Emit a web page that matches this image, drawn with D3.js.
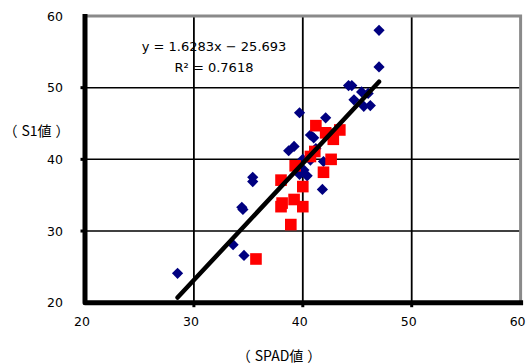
<!DOCTYPE html>
<html>
<head>
<meta charset="utf-8">
<script src="https://cdn.jsdelivr.net/npm/d3@7"></script>
<style>
  html, body { margin: 0; padding: 0; background: #fff; }
  svg { display: block; }
</style>
</head>
<body>
<div id="chart"></div>
<script>
// ── Data ───────────────────────────────────────────────────────────────────
const xTicks = [20, 30, 40, 50, 60]
const yTicks = [20, 30, 40, 50, 60]

// series 1 – navy diamonds
const blueX = [28.5, 33.6, 34.6, 34.4, 34.5, 35.4, 35.4, 38.7, 39.2, 39.7, 39.7, 40.0, 40.1, 40.4, 40.7, 41.0, 41.2, 40.7, 42.1, 41.9, 41.8, 44.2, 44.5, 44.7, 45.4, 46.0, 45.6, 46.2, 47.0, 47.0]
const blueY = [24.1, 28.1, 26.6, 33.3, 33.0, 37.5, 36.9, 41.2, 41.8, 46.5, 37.9, 40.0, 38.5, 37.7, 43.4, 43.0, 41.5, 39.9, 45.8, 39.7, 35.8, 50.3, 50.3, 48.3, 49.4, 49.2, 47.4, 47.5, 58.0, 52.9]

// series 2 – red squares
const redX = [35.7, 38.9, 38.0, 38.1, 39.2, 40.0, 38.0, 40.0, 39.3, 41.9, 40.7, 41.1, 42.6, 41.2, 42.1, 42.8, 43.4, 42.4]
const redY = [26.1, 30.9, 33.4, 33.9, 34.4, 33.4, 37.1, 36.2, 39.1, 38.2, 40.4, 41.1, 40.0, 44.7, 43.7, 42.8, 44.1, 43.5]

// linear trend over all points
const slope = 1.6283
const intercept = -25.693
const r2 = 0.7618

const xTitle = ['（', 'SPAD値', '）']
const yTitle = ['（', 'S1値', '）']

// ── Layout ────────────────────────────────────────────────────────────────
const W = 528, H = 364
const plot = { left: 85, right: 520.6, top: 16, bottom: 302.7 }
const numFont = '"DejaVu Sans", sans-serif'
const jpFont = '"Noto Sans CJK JP", sans-serif'

const x = d3.scaleLinear().domain([20, 60]).range([plot.left, plot.right])
const y = d3.scaleLinear().domain([20, 60]).range([plot.bottom, plot.top])

const svg = d3.select('#chart').append('svg').attr('width', W).attr('height', H)

// gridlines (inner only)
const grid = svg.append('g')
grid.selectAll('line.gx').data(xTicks.slice(1, -1)).join('line')
  .attr('x1', d => x(d)).attr('x2', d => x(d)).attr('y1', plot.top).attr('y2', plot.bottom)
  .attr('stroke', '#000').attr('stroke-width', 1.8)
grid.selectAll('line.gy').data(yTicks.slice(1, -1)).join('line')
  .attr('x1', plot.left).attr('x2', plot.right).attr('y1', d => y(d)).attr('y2', d => y(d))
  .attr('stroke', '#000').attr('stroke-width', 1.5)

// grey frame top / right
svg.append('path')
  .attr('d', `M${plot.left},${plot.top} H${plot.right} V${plot.bottom}`)
  .attr('fill', 'none').attr('stroke', '#8a8a8a').attr('stroke-width', 3)

// points
const blue = blueX.map((v, i) => ({ x: v, y: blueY[i] }))
const red = redX.map((v, i) => ({ x: v, y: redY[i] }))

svg.append('g').selectAll('path').data(blue).join('path')
  .attr('d', d3.symbol(d3.symbolDiamond2, 80))
  .attr('transform', d => `translate(${x(d.x)},${y(d.y)})`)
  .attr('fill', '#000080')

svg.append('g').selectAll('path').data(red).join('path')
  .attr('d', d3.symbol(d3.symbolSquare, 135))
  .attr('transform', d => `translate(${x(d.x)},${y(d.y)})`)
  .attr('fill', '#ff0000')

// trend line
const allX = blueX.concat(redX)
const [xMin, xMax] = d3.extent(allX)
svg.append('line')
  .attr('x1', x(xMin)).attr('y1', y(slope * xMin + intercept))
  .attr('x2', x(xMax)).attr('y2', y(slope * xMax + intercept))
  .attr('stroke', '#000').attr('stroke-width', 4.5).attr('stroke-linecap', 'round')

// black axes + tick stubs
const ax = svg.append('g').attr('stroke', '#000')
ax.append('path')
  .attr('d', `M${plot.left},${plot.top - 2} V${plot.bottom} H${plot.right + 2.5}`)
  .attr('fill', 'none').attr('stroke-width', 5).attr('stroke-linejoin', 'round')
ax.selectAll('line.tx').data(xTicks.slice(1, -1)).join('line')
  .attr('x1', d => x(d)).attr('x2', d => x(d)).attr('y1', plot.bottom).attr('y2', plot.bottom + 4.5)
  .attr('stroke-width', 3)
ax.selectAll('line.ty').data(yTicks.slice(1, -1)).join('line')
  .attr('x1', plot.left - 4.5).attr('x2', plot.left).attr('y1', d => y(d)).attr('y2', d => y(d))
  .attr('stroke-width', 3)

// tick labels
svg.append('g').selectAll('text').data(xTicks).join('text')
  .attr('x', d => x(d) - 3).attr('y', 325.5)
  .attr('text-anchor', 'middle').attr('font-family', numFont).attr('font-size', 12.5).attr('fill', '#000')
  .text(d => d)
svg.append('g').selectAll('text').data(yTicks).join('text')
  .attr('x', 63).attr('y', d => y(d) + 4.5)
  .attr('text-anchor', 'end').attr('font-family', numFont).attr('font-size', 12.5).attr('fill', '#000')
  .text(d => d)

// axis titles – parens sit a bit wider apart in the original
const title = (parts, cx, cy) => {
  const t = svg.append('text').attr('x', cx).attr('y', cy)
    .attr('text-anchor', 'middle').attr('font-family', jpFont).attr('font-size', 14).attr('fill', '#000')
  t.selectAll('tspan').data(parts).join('tspan')
    .attr('dx', (d, i) => i === 0 ? 0 : 4)
    .text(d => d)
}
title(xTitle, 279, 361)
title(yTitle, 36.5, 136)

// trend equation
const eq = svg.append('g').attr('font-family', numFont).attr('font-size', 13).attr('fill', '#000').attr('text-anchor', 'middle')
eq.append('text').attr('x', 214).attr('y', 50.5).text(`y = ${slope}x − ${Math.abs(intercept)}`)
eq.append('text').attr('x', 214).attr('y', 72).text(`R² = ${r2}`)
</script>
</body>
</html>
